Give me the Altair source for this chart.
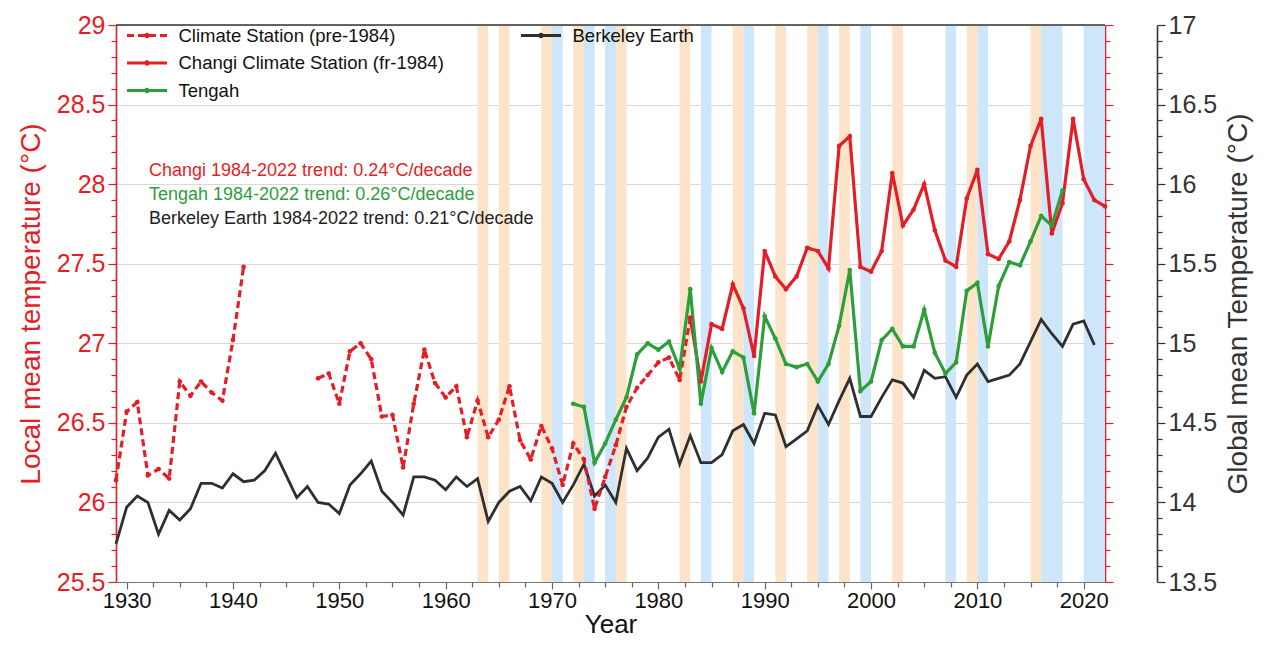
import altair as alt
import pandas as pd

FONT = "Liberation Sans"
RED = "#e41e26"
GREEN = "#2e9e3a"
DARK = "#2f2f2f"
ORANGE_BAND = "#fde3c7"
BLUE_BAND = "#cde6fa"

S_PRE = "Climate Station (pre-1984)"
S_CH = "Changi Climate Station (fr-1984)"
S_TE = "Tengah"
S_BE = "Berkeley Earth"

# ---------------- data ----------------
pre_years_a = list(range(1929, 1942))
pre_vals_a = [26.14, 26.57, 26.63, 26.17, 26.21, 26.15, 26.76, 26.67, 26.76, 26.69, 26.64, 27.02, 27.48]

pre_years_b = list(range(1948, 1984))
pre_vals_b = [26.78, 26.81, 26.62, 26.95, 27.00, 26.90, 26.54, 26.55, 26.22, 26.62,
              26.96, 26.75, 26.66, 26.73, 26.41, 26.64, 26.41, 26.52, 26.73, 26.39,
              26.27, 26.48, 26.34, 26.11, 26.37, 26.27, 25.96, 26.16, 26.36, 26.60,
              26.72, 26.80, 26.88, 26.91, 26.77, 27.16]

changi_years = list(range(1983, 2023))
changi_vals = [27.16, 26.76, 27.12, 27.09, 27.37, 27.22, 26.92, 27.58, 27.42, 27.34,
               27.42, 27.60, 27.58, 27.47, 28.24, 28.30, 27.48, 27.45, 27.58, 28.07,
               27.74, 27.84, 28.00, 27.71, 27.52, 27.48, 27.91, 28.09, 27.56, 27.53,
               27.64, 27.90, 28.24, 28.41, 27.69, 27.88, 28.41, 28.03, 27.90, 27.86]

tengah_years = list(range(1972, 2019))
tengah_vals = [26.62, 26.60, 26.25, 26.37, 26.52, 26.66, 26.93, 27.00, 26.96, 27.01,
               26.84, 27.34, 26.62, 26.97, 26.82, 26.95, 26.91, 26.56, 27.17, 27.03,
               26.87, 26.85, 26.87, 26.76, 26.87, 27.11, 27.46, 26.70, 26.76, 27.02,
               27.09, 26.98, 26.98, 27.21, 26.94, 26.81, 26.88, 27.33, 27.38, 26.98,
               27.36, 27.51, 27.49, 27.64, 27.80, 27.74, 27.96]

be_years = list(range(1929, 2022))
be_vals = [13.74,
           13.97, 14.04, 14.00, 13.80, 13.95, 13.89, 13.96, 14.12, 14.12, 14.09,
           14.18, 14.13, 14.14, 14.20, 14.31, 14.17, 14.03, 14.10, 14.00, 13.99,
           13.93, 14.11, 14.18, 14.26, 14.07, 14.00, 13.92, 14.16, 14.16, 14.14,
           14.08, 14.16, 14.10, 14.15, 13.88, 14.00, 14.07, 14.10, 14.01, 14.16,
           14.12, 14.00, 14.11, 14.24, 14.04, 14.11, 14.00, 14.34, 14.20, 14.28,
           14.41, 14.46, 14.24, 14.42, 14.25, 14.25, 14.30, 14.45, 14.49, 14.37,
           14.56, 14.55, 14.35, 14.40, 14.45, 14.61, 14.49, 14.64, 14.78, 14.54,
           14.54, 14.66, 14.77, 14.75, 14.66, 14.83, 14.78, 14.79, 14.66, 14.80,
           14.87, 14.76, 14.78, 14.80, 14.87, 15.01, 15.15, 15.06, 14.98, 15.12,
           15.14, 14.99]

nino_start = [1963, 1965, 1969, 1972, 1976, 1982, 1987, 1991, 1994, 1997, 2002, 2009, 2015]
nino_end = [1964, 1966, 1970, 1973, 1977, 1983, 1988, 1992, 1995, 1998, 2003, 2010, 2016]
nina_start = [1970, 1973, 1975, 1984, 1988, 1995, 1999, 2007, 2010, 2016, 2020]
nina_end = [1971, 1974, 1976, 1985, 1989, 1996, 2000, 2008, 2011, 2018, 2022]

trend_texts = ["Changi 1984-2022 trend: 0.24\u00b0C/decade",
               "Tengah 1984-2022 trend: 0.26\u00b0C/decade",
               "Berkeley Earth 1984-2022 trend: 0.21\u00b0C/decade"]
trend_colors = [RED, GREEN, "#222222"]

# ---------------- tables ----------------
rows = []
for y, v in zip(pre_years_a, pre_vals_a):
    rows.append({"year": y, "value": v, "series": S_PRE, "seg": "a"})
for y, v in zip(pre_years_b, pre_vals_b):
    rows.append({"year": y, "value": v, "series": S_PRE, "seg": "b"})
for y, v in zip(changi_years, changi_vals):
    rows.append({"year": y, "value": v, "series": S_CH, "seg": "c"})
for y, v in zip(tengah_years, tengah_vals):
    rows.append({"year": y, "value": v, "series": S_TE, "seg": "t"})
local_df = pd.DataFrame(rows)
be_df = pd.DataFrame({"year": be_years, "global": be_vals, "name": S_BE})
nino_df = pd.DataFrame({"start": nino_start, "end": nino_end})
nina_df = pd.DataFrame({"start": nina_start, "end": nina_end})
one_df = pd.DataFrame({"k": [0]})

W, H = 989, 557

MAJOR_TEST = "abs(datum.value*2 - round(datum.value*2)) < 0.001"
X_MAJOR_TEST = "abs(datum.value/10 - round(datum.value/10)) < 0.001"

xs = alt.Scale(domain=[1929, 2022], nice=False, zero=False)
x_axis = alt.Axis(
    values=[1930 + 2.5 * i for i in range(37)],
    format="d",
    labelExpr=f"{X_MAJOR_TEST} ? datum.label : ''",
    labelOverlap=False, labelFontSize=22, labelColor="#111111", labelFont=FONT,
    labelPadding=1, labelFlush=False,
    tickSize={"condition": {"test": X_MAJOR_TEST, "value": 7}, "value": 5},
    tickColor="#666666", tickWidth=1.2,
    domainColor="#777777", domainWidth=1.2, grid=False,
    title="Year", titleFontSize=26, titleFont=FONT, titleColor="#111111",
    titleFontWeight="normal", titlePadding=0,
)


def X(field):
    return alt.X(field, type="quantitative", scale=xs, axis=x_axis)


local_values = [round(25.5 + 0.1 * i, 1) for i in range(36)]
global_values = [round(13.5 + 0.1 * i, 1) for i in range(36)]
ys_local = alt.Scale(domain=[25.5, 29], nice=False, zero=False)
ys_global = alt.Scale(domain=[13.5, 17], nice=False, zero=False)

left_axis = alt.Axis(
    orient="left", values=local_values,
    labelExpr=f"{MAJOR_TEST} ? format(datum.value, '~g') : ''",
    labelOverlap=False, labelFontSize=25, labelColor=RED, labelFont=FONT, labelPadding=3,
    labelFlush=False,
    tickSize={"condition": {"test": MAJOR_TEST, "value": 8}, "value": 5},
    tickColor=RED, tickWidth=1.2, domainColor=RED, domainWidth=1.6,
    grid=True, gridColor="#d9d9d9", gridWidth=1,
    gridOpacity={"condition": {"test": MAJOR_TEST, "value": 1}, "value": 0},
    title="Local mean temperature (\u00b0C)", titleColor=RED, titleFontSize=28,
    titleFont=FONT, titleFontWeight="normal", titlePadding=11,
)

right_red_axis = alt.Axis(
    orient="right", values=local_values, labels=False, title=None, grid=False,
    tickSize={"condition": {"test": MAJOR_TEST, "value": 8}, "value": 5},
    tickColor=RED, tickWidth=1.2, domainColor=RED, domainWidth=1.6,
)

global_axis = alt.Axis(
    orient="right", offset=52, values=global_values,
    labelExpr=f"{MAJOR_TEST} ? format(datum.value, '~g') : ''",
    labelOverlap=False, labelFontSize=25, labelColor="#333333", labelFont=FONT, labelPadding=3,
    labelFlush=False,
    tickSize={"condition": {"test": MAJOR_TEST, "value": 8}, "value": 5},
    tickColor="#333333", tickWidth=1.2, domainColor="#333333", domainWidth=1.6,
    grid=False,
    title="Global mean Temperature (\u00b0C)", titleColor="#333333", titleFontSize=28,
    titleFont=FONT, titleFontWeight="normal", titlePadding=8, titleAngle=270,
    titleBaseline="top",
)

SYM = "M-2,0H2M0.12,0A0.12,0.12,0,1,1,-0.12,0A0.12,0.12,0,1,1,0.12,0"


def make_legend(x, y):
    return alt.Legend(
        title=None, orient="none", legendX=x, legendY=y, symbolType=SYM, symbolSize=400,
        symbolStrokeWidth=3, labelFontSize=18.5, labelFont=FONT, labelColor="#111111",
        labelOffset=20, rowPadding=6.5, padding=0, labelLimit=500,
    )


loc_legend = make_legend(19.5, -1)

# ---------------- layers ----------------
nino = alt.Chart(nino_df).mark_rect(color=ORANGE_BAND).encode(
    x=X("start"), x2="end", y=alt.value(0), y2=alt.value(H))
nina = alt.Chart(nina_df).mark_rect(color=BLUE_BAND).encode(
    x=X("start"), x2="end", y=alt.value(0), y2=alt.value(H))

top_line = alt.Chart(one_df).mark_rule(color="#333333", strokeWidth=1.5).encode(
    x=alt.value(0), x2=alt.value(W), y=alt.value(0))

right_frame = alt.Chart(local_df).mark_point(opacity=0).encode(
    x=X("year"), y=alt.Y("value:Q", scale=ys_local, axis=right_red_axis))

berkeley = alt.Chart(be_df).mark_line(strokeWidth=2.8).encode(
    x=X("year"),
    y=alt.Y("global:Q", scale=ys_global, axis=global_axis),
    color=alt.Color("name:N", scale=alt.Scale(domain=[S_BE], range=[DARK]),
                    legend=make_legend(413.5, -1)),
)

local = alt.Chart(local_df).mark_line(
    strokeWidth=3.2, point=alt.OverlayMarkDef(filled=True, size=22)
).encode(
    x=X("year"),
    y=alt.Y("value:Q", scale=ys_local, axis=left_axis),
    color=alt.Color("series:N", scale=alt.Scale(domain=[S_PRE, S_CH, S_TE], range=[RED, RED, GREEN]),
                    legend=loc_legend),
    strokeDash=alt.StrokeDash("series:N", scale=alt.Scale(domain=[S_PRE, S_CH, S_TE],
                                                          range=[[7, 4], [1, 0], [1, 0]]),
                              legend=loc_legend),
    detail="seg:N",
)

texts = []
for i, (t, c) in enumerate(zip(trend_texts, trend_colors)):
    texts.append(
        alt.Chart(one_df).mark_text(text=t, color=c, align="left", baseline="middle",
                                    fontSize=18, font=FONT).encode(
            x=alt.value(33), y=alt.value(146 + 24 * i))
    )

chart = alt.layer(
    nino, nina, top_line, right_frame, berkeley, local, *texts
).resolve_scale(
    y="independent", color="independent", strokeDash="independent"
).properties(
    width=W, height=H,
    padding={"left": 108, "top": 17, "right": 150, "bottom": 58},
    autosize=alt.AutoSizeParams(type="none"),
).configure_view(stroke=None).configure_axis(labelFont=FONT, titleFont=FONT)

chart.save("out.html", embed_options={"renderer": "svg", "actions": False})
